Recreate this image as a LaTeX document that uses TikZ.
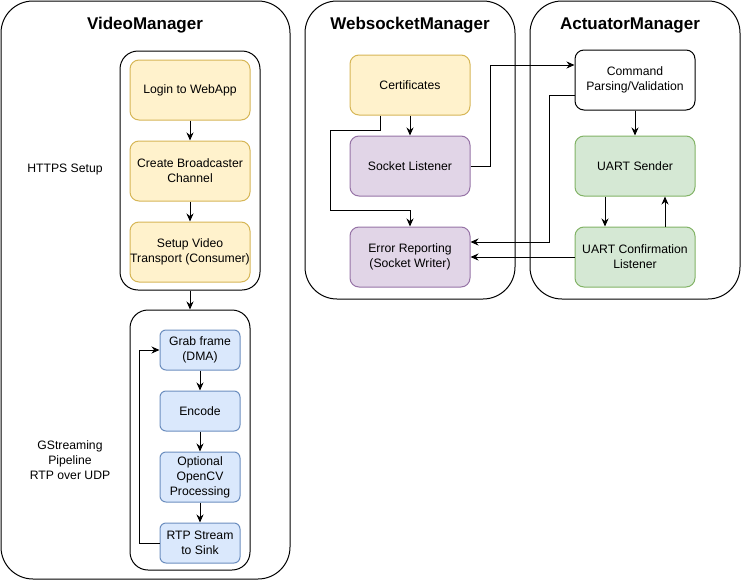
\documentclass[tikz,border=0pt]{standalone}
\usepackage{fontspec}
\setmainfont{Liberation Sans}
\usetikzlibrary{
  arrows.meta,
  positioning
}
\definecolor{yfill}{HTML}{FFF2CC}
\definecolor{yline}{HTML}{D6B656}
\definecolor{pfill}{HTML}{E1D5E7}
\definecolor{pline}{HTML}{9673A6}
\definecolor{bfill}{HTML}{DAE8FC}
\definecolor{bline}{HTML}{6C8EBF}
\definecolor{gfill}{HTML}{D5E8D4}
\definecolor{gline}{HTML}{82B366}

\begin{document}
\begin{tikzpicture}[
    x=1pt, y=-1pt, line width=1pt,
    node distance=20pt,
  every node/.style = {align=center, inner sep=0pt,
    font=\fontsize{12.2}{15}\selectfont},
  group/.style = {draw, rounded corners=32pt},
  title/.style = {font=\fontsize{17}{20}\selectfont\bfseries},
  card/.style = {draw, rounded corners=9pt,
    minimum width=120pt, minimum height=60pt},
  small/.style = {draw=bline, fill=bfill, rounded corners=6pt,
    minimum width=80pt, minimum height=40pt},
  ycard/.style = {card, draw=yline, fill=yfill},
  pcard/.style = {card, draw=pline, fill=pfill},
  gcard/.style = {card, draw=gline, fill=gfill},
  arr/.style = {-{Stealth[length=8pt,width=7pt]}}]
  \useasboundingbox (0,0) rectangle (742,581);

  % outer managers
  \node[group, minimum width=289pt, minimum height=578pt] (video) at (145.5,290) {};
  \node[group, minimum width=210pt, minimum height=298pt] (wsm) at (410,150) {};
  \node[group, minimum width=210pt, minimum height=298pt] (act) at (635,150) {};
  \node[title] (videot) at (145,25) {VideoManager};
  \node[title] (wsmt) at (410,25) {WebsocketManager};
  \node[title] (actt) at (630,25) {ActuatorManager};

  % video manager
  \node[draw, rounded corners=18pt, minimum width=140pt, minimum height=239pt]
    (https) at (190,170.5) {};
  \node[draw, rounded corners=18pt, minimum width=120pt, minimum height=260pt]
    (pipe) at (190,440) {};
  \node (httpst) at (65,170) {HTTPS Setup};
  \node (pipet) at (70,460) {GStreaming\\Pipeline\\RTP over UDP};

  \node[ycard] (login) at (190,90) {Login to WebApp};
  \node[ycard, below=of login] (create) {Create Broadcaster\\Channel};
  \node[ycard, below=of create] (setup) {Setup Video\\Transport (Consumer)};

  \node[small] (grab) at (200,350) {Grab frame\\(DMA)};
  \node[small, below=of grab] (enc) {Encode};
  \node[small, below=of enc, minimum height=50pt] (opt) {Optional\\OpenCV\\Processing};
  \node[small, below=of opt] (rtp) {RTP Stream\\to Sink};

  % websocket manager
  \node[ycard] (cert) at (410,85) {Certificates};
  \node[pcard, below=of cert] (sock) {Socket Listener};
  \node[pcard, below=30pt of sock] (err) {Error Reporting\\(Socket Writer)};

  % actuator manager
  \node[card] (cmd) at (635,80) {Command\\Parsing/Validation};
  \node[gcard, below=25pt of cmd] (send) {UART Sender};
  \node[gcard, below=30pt of send] (conf) {UART Confirmation\\Listener};

  % connectors
  \draw[arr] (login) -- (create);
  \draw[arr] (create) -- (setup);
  \draw[arr] (https) -- (pipe);
  \draw[arr] (grab) -- (enc);
  \draw[arr] (enc) -- (opt);
  \draw[arr] (opt) -- (rtp);
  \draw[arr] (rtp.west) -- ++(-20,0) |- (grab.west);

  \draw[arr] (cert) -- (sock);
  \draw[arr] ([xshift=-30pt]cert.south) -- ++(0,15) -| (330,210) -| (err.north);
  \draw[arr] (sock.east) -- ++(20,0) |- ([yshift=15pt]cmd.west);

  \draw[arr] (cmd) -- (send);
  \draw[arr] ([xshift=-30pt]send.south) -- ([xshift=-30pt]conf.north);
  \draw[arr] ([xshift=30pt]conf.north) -- ([xshift=30pt]send.south);
  \draw[arr] ([yshift=-15pt]cmd.west) -- ++(-25,0) |- ([yshift=15pt]err.east);
  \draw[arr] (conf.west) -- (err.east);
\end{tikzpicture}
\end{document}
